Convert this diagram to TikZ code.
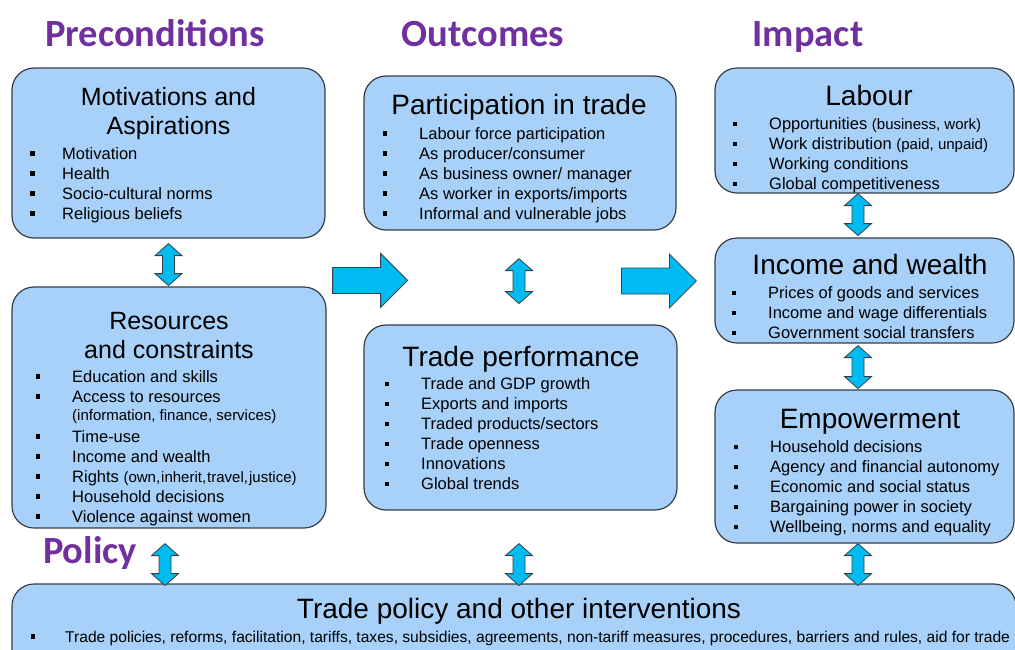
\documentclass[tikz,border=0pt]{standalone}
\usepackage{fontspec}
\setmainfont{Liberation Sans}
\newfontfamily\headfont{Carlito}
\usetikzlibrary{calc}

\definecolor{boxblue}{RGB}{168,209,250}
\definecolor{boxline}{RGB}{55,62,70}
\definecolor{arrowblue}{RGB}{0,187,242}
\definecolor{headpurple}{RGB}{112,48,160}

\newcommand{\bul}{\rule[3.5pt]{4.5pt}{4.5pt}}
\newcommand{\itm}[1][32pt]{\llap{\bul\hspace{#1}}}
\newcommand{\sm}[1]{{\fontsize{15}{17}\selectfont #1}}

% vertical double block arrow: top point, length
\newcommand{\updown}[2]{%
  \path #1 coordinate (ud-t);
  \path ($(ud-t)+(0,#2)$) coordinate (ud-b);
  \draw[blockarrow] (ud-t) -- ++(13.5,12) -- ++(-7.5,0) -- ($(ud-b)+(6,-12)$) -- ++(7.5,0) -- (ud-b)
    -- ++(-13.5,-12) -- ++(7.5,0) -- ($(ud-t)+(-6,12)$) -- ++(-7.5,0) -- cycle;}
% horizontal block arrow: start point, end point
\newcommand{\rightblock}[2]{%
  \path #1 coordinate (rb-s) #2 coordinate (rb-e);
  \draw[blockarrow] ($(rb-s)+(0,-13)$) -- ($(rb-e)+(-27,-13)$) -- ($(rb-e)+(-27,-27)$) -- (rb-e)
    -- ($(rb-e)+(-27,27)$) -- ($(rb-e)+(-27,13)$) -- ($(rb-s)+(0,13)$) -- cycle;}

\begin{document}
\begin{tikzpicture}[x=1pt,y=-1pt,
  box/.style={draw=boxline, line width=1.2pt, fill=boxblue, rounded corners=22pt, inner sep=0pt},
  heading/.style={font=\headfont\bfseries\fontsize{38.5}{42}\selectfont, text=headpurple, anchor=base, inner sep=0pt},
  boxtitle/.style={font=\fontsize{28}{30}\selectfont, anchor=base, inner sep=0pt},
  lefttitle/.style={font=\fontsize{25}{30}\selectfont, anchor=base, inner sep=0pt},
  item/.style={font=\fontsize{16.5}{20}\selectfont, anchor=base west, inner sep=0pt},
  blockarrow/.style={draw=boxline, line width=0.8pt, fill=arrowblue, line join=miter}]

\useasboundingbox (0,0) rectangle (1015,649);

% headings
\node[heading] (hpre) at (155,46) {Preconditions};
\node[heading] (hout) at (483,46) {Outcomes};
\node[heading] (himp) at (808,46) {Impact};
\node[heading] (hpol) at (90,563) {Policy};

% boxes
\node[box, minimum width=313pt, minimum height=170pt] (ma) at (168.5,153) {};%motivations
\node[box, minimum width=314pt, minimum height=241pt] (rc) at (169,407.5) {};%resources
\node[box, minimum width=312pt, minimum height=154pt] (pt) at (520,153) {};%participation
\node[box, minimum width=313pt, minimum height=185pt] (tp) at (520.5,417.5) {};%performance
\node[box, minimum width=299pt, minimum height=125pt] (lab) at (864.5,130.5) {};%labour
\node[box, minimum width=299pt, minimum height=105pt] (inc) at (864.5,290.5) {};%income
\node[box, minimum width=299pt, minimum height=153pt] (emp) at (864.5,466.5) {};%empowerment
\node[box, minimum width=1004pt, minimum height=116pt] (pol) at (514,642) {};%policy

% titles
\node[lefttitle] (ma-t1) at (168.5,105) {Motivations and};
\node[lefttitle] (ma-t2) at (168.5,134) {Aspirations};
\node[lefttitle] (rc-t1) at (169,329) {Resources};
\node[lefttitle] (rc-t2) at (169,358) {and constraints};
\node[boxtitle] (pt-t) at (519,114) {Participation in trade};
\node[boxtitle] (tp-t) at (521,366) {Trade performance};
\node[boxtitle] (lab-t) at (869,105) {Labour};
\node[boxtitle] (inc-t) at (870,274) {Income and wealth};
\node[boxtitle] (emp-t) at (870,428) {Empowerment};
\node[boxtitle] (pol-t) at (519,618) {Trade policy and other interventions};

% lists
\foreach \t [count=\i from 0] in {Motivation, Health, Socio-cultural norms, Religious beliefs}
  \node[item] (ma-\i) at (62,159+20*\i) {\itm[27.5pt]\t};
\foreach \t/\y [count=\i from 0] in {Education and skills/382, Access to resources/402, Time-use/442,
    Income and wealth/462, {Rights \sm{(own,\kern1pt inherit,\kern1pt travel,\kern1pt justice)}}/482,
    Household decisions/502, Violence against women/522}
  \node[item] (rc-\i) at (72,\y) {\itm\t};
\node[item] (rc-sub) at (72,420) {\sm{(information, finance, services)}};
\foreach \t [count=\i from 0] in {Labour force participation, As producer/consumer,
    As business owner/ manager, As worker in exports/imports, Informal and vulnerable jobs}
  \node[item] (pt-\i) at (419,139+20*\i) {\itm\t};
\foreach \t [count=\i from 0] in {Trade and GDP growth, Exports and imports, Traded products/sectors,
    Trade openness, Innovations, Global trends}
  \node[item] (tp-\i) at (421,389.5+20*\i) {\itm\t};
\foreach \t [count=\i from 0] in {{Opportunities \sm{(business, work)}}, {Work distribution \sm{(paid, unpaid)}},
    Working conditions, Global competitiveness}
  \node[item] (lab-\i) at (769,129.5+20*\i) {\itm\t};
\foreach \t [count=\i from 0] in {Prices of goods and services, Income and wage differentials,
    Government social transfers}
  \node[item] (inc-\i) at (768,298.5+20*\i) {\itm\t};
\foreach \t [count=\i from 0] in {Household decisions, Agency and financial autonomy,
    Economic and social status, Bargaining power in society, {Wellbeing, norms and equality}}
  \node[item] (emp-\i) at (770,452.5+20*\i) {\itm\t};
\node[item, font=\fontsize{15.6}{18}\selectfont] (pol-0) at (65,642)
  {\itm[30pt]Trade policies, reforms, facilitation, tariffs, taxes, subsidies, agreements, non-tariff measures, procedures, barriers and rules, aid for trade};

% arrows
\rightblock{($(rc.north east)+(6,-6)$)}{($(rc.north east)+(81,-6)$)}
\rightblock{($(inc.west)+(-93,-9.5)$)}{($(inc.west)+(-18,-9.5)$)}
\updown{($(ma.south)+(0,5)$)}{42}
\updown{($(pt.south)+(-1,28)$)}{45}
\updown{($(lab.south)+(-6.5,0)$)}{42}
\updown{($(inc.south)+(-6.5,2)$)}{43}
\updown{($(rc.south)+(-4,15)$)}{42}
\updown{($(tp.south)+(-1.5,33)$)}{42}
\updown{($(emp.south)+(-6.5,0)$)}{42}
\end{tikzpicture}
\end{document}
